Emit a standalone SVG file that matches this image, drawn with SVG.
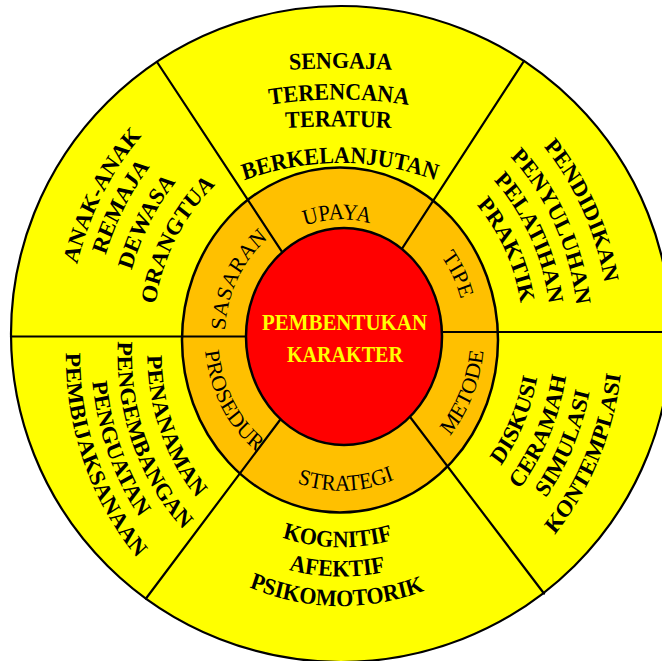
<svg xmlns="http://www.w3.org/2000/svg" xmlns:xlink="http://www.w3.org/1999/xlink" width="662" height="661" viewBox="0 0 662 661">
<style>
.o{font-family:"Liberation Serif","Times New Roman",serif;font-weight:bold;font-size:22px;fill:#000}
.r{font-family:"Liberation Serif","Times New Roman",serif;font-size:21px;fill:#000}
.c{font-family:"Liberation Serif","Times New Roman",serif;font-weight:bold;font-size:24px;fill:#FFFF00}
.ln{stroke:#000;stroke-width:2.2;fill:none;stroke-linecap:round}
.bd{stroke:#000;stroke-width:2.5}
</style>
<defs>
<path id="p1" d="M -150.5 -236.5 A 1000 1000 0 0 1 149.5 -236.5"/>
<path id="p2" d="M -152 -195 A 480 480 0 0 1 148 -195"/>
<path id="p3" d="M -152.5 -181.5 A 900 900 0 0 1 147.5 -181.5"/>
<path id="p4" d="M -151 -118.7 A 292 292 0 0 1 149 -118.7"/>
<path id="p5" d="M -231.9 142.1 A 272 272 0 0 1 -7.1 -271.9"/>
<path id="p6" d="M -210.6 129.1 A 247 247 0 0 1 -6.5 -246.9"/>
<path id="p7" d="M -185.9 113.9 A 218 218 0 0 1 -5.7 -217.9"/>
<path id="p8" d="M -160.3 98.2 A 188 188 0 0 1 -4.9 -187.9"/>
<path id="p9" d="M 20.1 -267.2 A 268 268 0 0 1 221.4 151.0"/>
<path id="p10" d="M 17.8 -236.3 A 237 237 0 0 1 195.8 133.6"/>
<path id="p11" d="M 15.7 -209.4 A 210 210 0 0 1 173.5 118.3"/>
<path id="p12" d="M 13.6 -181.5 A 182 182 0 0 1 150.4 102.6"/>
<path id="p13" d="M 20.9 198.9 A 200 200 0 0 0 161.8 -117.6"/>
<path id="p14" d="M 23.8 226.7 A 228 228 0 0 0 184.5 -134.0"/>
<path id="p15" d="M 26.6 252.6 A 254 254 0 0 0 205.5 -149.3"/>
<path id="p16" d="M 29.5 280.5 A 282 282 0 0 0 228.1 -165.8"/>
<path id="p17" d="M -148.0 -109.3 A 200.6 200.6 0 0 0 -25.8 215.9"/>
<path id="p18" d="M -171.1 -128.3 A 230.5 230.5 0 0 0 -30.6 245.4"/>
<path id="p19" d="M -191.4 -144.9 A 256.7 256.7 0 0 0 -34.9 271.3"/>
<path id="p20" d="M -211.1 -161.1 A 282.2 282.2 0 0 0 -39.1 296.4"/>
<path id="p21" d="M -171.2 94.9 A 195.7 195.7 0 0 0 167.7 100.8"/>
<path id="p22" d="M -194.8 108.0 A 222.7 222.7 0 0 0 190.9 114.7"/>
<path id="p23" d="M -218.7 121.2 A 250 250 0 0 0 214.3 128.8"/>
<path id="p24" d="M -95.4 -50.7 A 108 108 0 0 1 91.6 -57.2"/>
<path id="p25" d="M 8.7 -124.2 A 124.5 124.5 0 0 1 103.2 69.6"/>
<path id="p26" d="M -97.1 63.5 A 116 116 0 0 1 -6.5 -115.8"/>
<path id="p27" d="M -116.8 -70.7 A 136.5 136.5 0 0 0 -2.9 136.5"/>
<path id="p28" d="M 17.4 141.9 A 143 143 0 0 0 114.2 -86.1"/>
<path id="p29" d="M -120.9 75.6 A 142 142 0 0 0 125.9 67.0"/>
</defs>
<rect width="662" height="661" fill="#FFFFFF"/>
<g id="outer-ring">
<ellipse cx="341" cy="334" rx="330" ry="328" fill="#FFFF00" stroke="#000" stroke-width="2.2"/>
</g>
<g id="middle-ring">
<ellipse cx="340" cy="340" rx="158" ry="172.5" fill="#FFC000" class="bd"/>
</g>
<g id="connectors">
<line class="ln" x1="157" y1="62" x2="290" y2="264"/>
<line class="ln" x1="524" y1="61" x2="394" y2="261"/>
<line class="ln" x1="146" y1="598.5" x2="286" y2="412"/>
<line class="ln" x1="544" y1="593.5" x2="404" y2="409"/>
<line class="ln" x1="11" y1="336.5" x2="260" y2="336.5"/>
<line class="ln" x1="430" y1="332" x2="662" y2="332"/>
</g>
<g id="center">
<ellipse cx="344" cy="336.5" rx="98" ry="108.5" fill="#FF0000" class="bd"/>
<text class="c" x="344.5" y="330" text-anchor="middle" textLength="165" lengthAdjust="spacingAndGlyphs">PEMBENTUKAN</text>
<text class="c" x="345" y="362" text-anchor="middle" textLength="116" lengthAdjust="spacingAndGlyphs">KARAKTER</text>
</g>
<g transform="translate(341,336) scale(1,1.08)">
<g id="upaya">
<text class="r"><textPath href="#p24" xlink:href="#p24" startOffset="50%" text-anchor="middle">UPAYA</textPath></text>
</g>
<g id="upaya-items">
<text class="o"><textPath href="#p1" xlink:href="#p1" startOffset="50%" text-anchor="middle">SENGAJA</textPath></text>
<text class="o"><textPath href="#p2" xlink:href="#p2" startOffset="50%" text-anchor="middle">TERENCANA</textPath></text>
<text class="o"><textPath href="#p3" xlink:href="#p3" startOffset="50%" text-anchor="middle">TERATUR</textPath></text>
<text class="o"><textPath href="#p4" xlink:href="#p4" startOffset="50%" text-anchor="middle">BERKELANJUTAN</textPath></text>
</g>
<g id="sasaran">
<text class="r"><textPath href="#p26" xlink:href="#p26" startOffset="50%" text-anchor="middle">SASARAN</textPath></text>
</g>
<g id="sasaran-items">
<text class="o"><textPath href="#p5" xlink:href="#p5" startOffset="50%" text-anchor="middle">ANAK-ANAK</textPath></text>
<text class="o"><textPath href="#p6" xlink:href="#p6" startOffset="50%" text-anchor="middle">REMAJA</textPath></text>
<text class="o"><textPath href="#p7" xlink:href="#p7" startOffset="50%" text-anchor="middle">DEWASA</textPath></text>
<text class="o"><textPath href="#p8" xlink:href="#p8" startOffset="50%" text-anchor="middle">ORANGTUA</textPath></text>
</g>
<g id="tipe">
<text class="r"><textPath href="#p25" xlink:href="#p25" startOffset="50%" text-anchor="middle">TIPE</textPath></text>
</g>
<g id="tipe-items">
<text class="o"><textPath href="#p9" xlink:href="#p9" startOffset="50%" text-anchor="middle">PENDIDIKAN</textPath></text>
<text class="o"><textPath href="#p10" xlink:href="#p10" startOffset="50%" text-anchor="middle">PENYULUHAN</textPath></text>
<text class="o"><textPath href="#p11" xlink:href="#p11" startOffset="50%" text-anchor="middle">PELATIHAN</textPath></text>
<text class="o"><textPath href="#p12" xlink:href="#p12" startOffset="50%" text-anchor="middle">PRAKTIK</textPath></text>
</g>
<g id="metode">
<text class="r"><textPath href="#p28" xlink:href="#p28" startOffset="50%" text-anchor="middle">METODE</textPath></text>
</g>
<g id="metode-items">
<text class="o"><textPath href="#p13" xlink:href="#p13" startOffset="50%" text-anchor="middle">DISKUSI</textPath></text>
<text class="o"><textPath href="#p14" xlink:href="#p14" startOffset="50%" text-anchor="middle">CERAMAH</textPath></text>
<text class="o"><textPath href="#p15" xlink:href="#p15" startOffset="50%" text-anchor="middle">SIMULASI</textPath></text>
<text class="o"><textPath href="#p16" xlink:href="#p16" startOffset="50%" text-anchor="middle">KONTEMPLASI</textPath></text>
</g>
<g id="prosedur">
<text class="r"><textPath href="#p27" xlink:href="#p27" startOffset="50%" text-anchor="middle">PROSEDUR</textPath></text>
</g>
<g id="prosedur-items">
<text class="o"><textPath href="#p17" xlink:href="#p17" startOffset="50%" text-anchor="middle">PENANAMAN</textPath></text>
<text class="o"><textPath href="#p18" xlink:href="#p18" startOffset="50%" text-anchor="middle">PENGEMBANGAN</textPath></text>
<text class="o"><textPath href="#p19" xlink:href="#p19" startOffset="50%" text-anchor="middle">PENGUATAN</textPath></text>
<text class="o"><textPath href="#p20" xlink:href="#p20" startOffset="50%" text-anchor="middle">PEMBIJAKSANAAN</textPath></text>
</g>
<g id="strategi">
<text class="r"><textPath href="#p29" xlink:href="#p29" startOffset="50%" text-anchor="middle">STRATEGI</textPath></text>
</g>
<g id="strategi-items">
<text class="o"><textPath href="#p21" xlink:href="#p21" startOffset="50%" text-anchor="middle">KOGNITIF</textPath></text>
<text class="o"><textPath href="#p22" xlink:href="#p22" startOffset="50%" text-anchor="middle">AFEKTIF</textPath></text>
<text class="o"><textPath href="#p23" xlink:href="#p23" startOffset="50%" text-anchor="middle">PSIKOMOTORIK</textPath></text>
</g>
</g>
</svg>
